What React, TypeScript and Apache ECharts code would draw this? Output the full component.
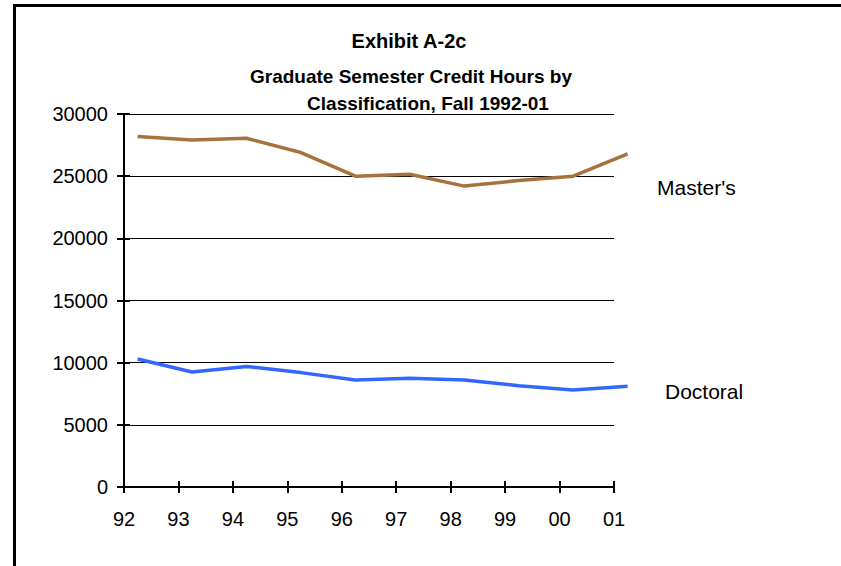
import React, { useEffect, useRef } from "react";
import * as echarts from "echarts";

const yearLabels = ["92", "93", "94", "95", "96", "97", "98", "99", "00", "01"];
const mastersValues = [28200, 27900, 28050, 26900, 25000, 25150, 24200, 24650, 25000, 26800];
const doctoralValues = [10300, 9250, 9700, 9200, 8600, 8750, 8600, 8150, 7800, 8100];
const yTicks = { min: 0, max: 30000, interval: 5000 };
// fall-semester points sit a quarter of a year past each year's tick
const fallOffset = 0.25;
// the lines run a little past the last tick
const lineExtentMax = yearLabels.length - 1 + 0.3;

const FONT = "'Liberation Sans', Arial, Helvetica, sans-serif";

const W = 841;
const H = 566;
const PLOT_LEFT = 124;
const PLOT_RIGHT_EDGE = 614;
const PLOT_TOP = 114;
const PLOT_BOTTOM = 487;

export default function App() {
  const ref = useRef<HTMLDivElement>(null);
  useEffect(() => {
    if (!ref.current) return;
    const chart = echarts.init(ref.current, undefined, { renderer: "svg" });
    const toPts = (vals: number[]) => vals.map((v, i) => [i + fallOffset, v]);
    const nMax = yearLabels.length - 1;
    const unitPx = (PLOT_RIGHT_EDGE - PLOT_LEFT) / nMax;
    const lineGridRight = W - PLOT_LEFT - unitPx * lineExtentMax;

    const baseX = {
      type: "value" as const,
      min: 0,
      max: nMax,
      interval: 1,
      position: "bottom" as const,
      gridIndex: 0,
      splitLine: { show: false },
    };
    const baseY = {
      type: "value" as const,
      min: yTicks.min,
      max: yTicks.max,
      interval: yTicks.interval,
      position: "left" as const,
      gridIndex: 0,
    };
    chart.setOption({
      animation: false,
      backgroundColor: "#ffffff",
      textStyle: { fontFamily: FONT },
      grid: [
        { left: PLOT_LEFT, right: W - PLOT_RIGHT_EDGE, top: PLOT_TOP, bottom: H - PLOT_BOTTOM, containLabel: false },
        { left: PLOT_LEFT, right: lineGridRight, top: PLOT_TOP, bottom: H - PLOT_BOTTOM, containLabel: false },
      ],
      xAxis: [
        {
          ...baseX,
          axisLine: { show: true, lineStyle: { color: "#000", width: 2 } },
          axisTick: { show: true, inside: false, length: 6, lineStyle: { color: "#000", width: 2 } },
          axisLabel: {
            show: true,
            color: "#000",
            fontSize: 20,
            fontFamily: FONT,
            margin: 22,
            formatter: (v: number) => yearLabels[Math.round(v)] ?? "",
          },
        },
        {
          ...baseX,
          axisLine: { show: false },
          axisTick: { show: true, inside: true, length: 6, lineStyle: { color: "#000", width: 2 } },
          axisLabel: { show: false },
        },
        {
          type: "value",
          gridIndex: 1,
          min: 0,
          max: lineExtentMax,
          show: false,
        },
      ],
      yAxis: [
        {
          ...baseY,
          axisLine: { show: true, lineStyle: { color: "#000", width: 2 } },
          axisTick: { show: true, inside: false, length: 7, lineStyle: { color: "#000", width: 2 } },
          splitLine: { show: true, lineStyle: { color: "#000", width: 1 } },
          axisLabel: {
            show: true,
            color: "#000",
            fontSize: 20,
            fontFamily: FONT,
            margin: 16,
            formatter: (v: number) => String(v),
          },
        },
        {
          ...baseY,
          axisLine: { show: false },
          axisTick: { show: true, inside: true, length: 6, lineStyle: { color: "#000", width: 2 } },
          splitLine: { show: false },
          axisLabel: { show: false },
        },
        {
          type: "value",
          gridIndex: 1,
          min: yTicks.min,
          max: yTicks.max,
          show: false,
        },
      ],
      series: [
        {
          name: "Master's",
          type: "line",
          xAxisIndex: 2,
          yAxisIndex: 2,
          data: toPts(mastersValues),
          showSymbol: false,
          symbol: "none",
          clip: false,
          lineStyle: { color: "#A6733E", width: 3.5 },
          itemStyle: { color: "#A6733E" },
        },
        {
          name: "Doctoral",
          type: "line",
          xAxisIndex: 2,
          yAxisIndex: 2,
          data: toPts(doctoralValues),
          showSymbol: false,
          symbol: "none",
          clip: false,
          lineStyle: { color: "#3366FF", width: 3.5 },
          itemStyle: { color: "#3366FF" },
        },
      ],
      graphic: [
        {
          type: "polyline",
          shape: { points: [[14.5, 566], [14.5, 5.5], [841, 5.5]] },
          style: { stroke: "#000", lineWidth: 3, fill: "none" },
          silent: true,
        },
        {
          type: "text",
          x: 409,
          y: 41,
          style: {
            text: "Exhibit A-2c",
            fontSize: 20,
            fontWeight: "bold",
            fontFamily: FONT,
            fill: "#000",
            align: "center",
            verticalAlign: "middle",
          },
        },
        {
          type: "text",
          x: 411,
          y: 76,
          style: {
            text: "Graduate Semester Credit Hours by",
            fontSize: 19,
            fontWeight: "bold",
            fontFamily: FONT,
            fill: "#000",
            align: "center",
            verticalAlign: "middle",
          },
        },
        {
          type: "text",
          x: 428,
          y: 103,
          style: {
            text: "Classification, Fall 1992-01",
            fontSize: 19,
            fontWeight: "bold",
            fontFamily: FONT,
            fill: "#000",
            align: "center",
            verticalAlign: "middle",
          },
        },
        {
          type: "text",
          x: 657,
          y: 187,
          style: {
            text: "Master's",
            fontSize: 21,
            fontFamily: FONT,
            fill: "#000",
            align: "left",
            verticalAlign: "middle",
          },
        },
        {
          type: "text",
          x: 665,
          y: 391,
          style: {
            text: "Doctoral",
            fontSize: 21,
            fontFamily: FONT,
            fill: "#000",
            align: "left",
            verticalAlign: "middle",
          },
        },
      ],
    });
    return () => chart.dispose();
  }, []);
  return (
    <div
      ref={ref}
      style={{ position: "absolute", left: 0, top: 0, width: W, height: H, background: "#fff" }}
    />
  );
}
